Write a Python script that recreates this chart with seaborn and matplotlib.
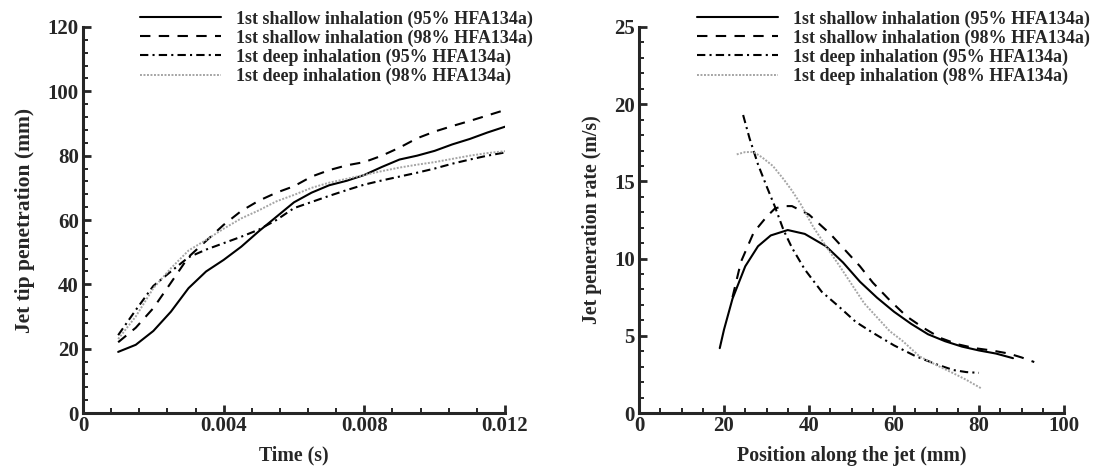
import numpy as np
import pandas as pd
import matplotlib
matplotlib.use("Agg")
import matplotlib.pyplot as plt
from matplotlib.ticker import MultipleLocator, FuncFormatter
import seaborn as sns

# legend labels
labels = ["1st shallow inhalation (95% HFA134a)",
          "1st shallow inhalation (98% HFA134a)",
          "1st deep inhalation (95% HFA134a)",
          "1st deep inhalation (98% HFA134a)"]

# left panel: jet tip penetration vs time
time_s = [0.001, 0.0015, 0.002, 0.0025, 0.003, 0.0035, 0.004, 0.0045, 0.005, 0.0055, 0.006, 0.0065,
          0.007, 0.0075, 0.008, 0.0085, 0.009, 0.0095, 0.010, 0.0105, 0.011, 0.0115, 0.012]
tip_shallow95 = [19, 21.2, 25.5, 31.5, 38.8, 44, 47.6, 51.7, 56.5, 61, 65.5, 68.5,
                 70.8, 72.2, 74, 76.5, 78.8, 80, 81.5, 83.5, 85.2, 87.2, 89]
tip_shallow98 = [22, 26.5, 32.6, 40.5, 48.5, 53.5, 58.5, 62.8, 66, 68.5, 70.5, 73.5,
                 75.5, 77, 78, 80, 82.5, 85.4, 87.5, 89.2, 90.8, 92.5, 94.2]
tip_deep95 = [24.2, 32, 39.5, 44, 48.4, 50.8, 52.8, 54.8, 57, 60, 63.7, 65.6,
              67.5, 69.3, 71, 72.3, 73.5, 74.7, 76, 77.5, 78.8, 80, 81]
tip_deep98 = [23, 30, 38.8, 45, 50.5, 53.8, 57.3, 60.5, 63, 65.8, 67.8, 70,
              71.6, 72.8, 74, 75.2, 76.3, 77.2, 78, 79, 80, 80.8, 81.4]

# right panel: penetration rate vs position
pos_shallow95 = [19, 20, 22, 25, 28, 31, 35, 39, 44, 48, 52, 56, 60, 64, 68, 72, 76, 80, 84, 88]
rate_shallow95 = [4.2, 5.4, 7.4, 9.5, 10.8, 11.5, 11.85, 11.6, 10.8, 9.75, 8.5, 7.47, 6.56, 5.78,
                  5.1, 4.65, 4.3, 4.05, 3.85, 3.55]
pos_shallow98 = [22, 24, 27, 30, 32, 34, 36, 40, 45, 49, 52, 55, 59, 63, 67, 71, 75, 79, 83, 87, 90, 93]
rate_shallow98 = [7.5, 9.8, 11.7, 12.7, 13.25, 13.4, 13.4, 12.85, 11.6, 10.4, 9.5, 8.45, 7.3, 6.25,
                  5.5, 4.85, 4.45, 4.2, 4.05, 3.85, 3.6, 3.3]
pos_deep95 = [24.5, 26, 28, 30, 32, 34, 36, 39, 43, 47, 51, 55, 60, 65, 70, 74, 77, 80]
rate_deep95 = [19.3, 17.8, 16.1, 14.7, 13.35, 11.85, 10.7, 9.3, 7.85, 6.9, 5.9, 5.2, 4.38, 3.69,
               3.15, 2.78, 2.65, 2.6]
pos_deep98 = [23, 25, 27, 29, 31.5, 34, 36, 38, 41, 44, 47, 50, 53, 56, 59, 62, 66, 70, 74, 77, 80.5]
rate_deep98 = [16.75, 16.9, 16.9, 16.55, 16.0, 15.15, 14.4, 13.55, 12.05, 10.8, 9.6, 8.35, 7.1, 6.2,
               5.3, 4.67, 3.67, 3.1, 2.57, 2.15, 1.6]

styles = [dict(color="black", lw=1.5, linestyle="-"),
          dict(color="black", lw=1.5, linestyle=(0, (5, 4))),
          dict(color="black", lw=1.5, linestyle=(0, (4, 2, 1, 2))),
          dict(color="#a5a5a5", lw=1.4, linestyle=(0, (1, 0.8)))]

sns.set_style("ticks")
plt.rcParams["font.family"] = ["Liberation Serif", "DejaVu Serif"]
plt.rcParams["font.weight"] = "bold"

fig = plt.figure(figsize=(10.96, 4.69), dpi=100)
ax1 = fig.add_axes([83 / 1096, 1 - 413 / 469, 422 / 1096, 386 / 469])
ax2 = fig.add_axes([639 / 1096, 1 - 413 / 469, 425 / 1096, 386 / 469])

left_series = [tip_shallow95, tip_shallow98, tip_deep95, tip_deep98]
for ys, st in zip(left_series, styles):
    sns.lineplot(x=time_s, y=ys, ax=ax1, sort=False, estimator=None, **st)

right_series = [(pos_shallow95, rate_shallow95), (pos_shallow98, rate_shallow98),
                (pos_deep95, rate_deep95), (pos_deep98, rate_deep98)]
for (xs, ys), st in zip(right_series, styles):
    sns.lineplot(x=xs, y=ys, ax=ax2, sort=False, estimator=None, **st)


def style_axis(ax, xmax, ymax, xmaj, xmin, ymaj, ymin, xlabel, ylabel, ylabel_size):
    ax.set_xlim(0, xmax)
    ax.set_ylim(0, ymax)
    ax.xaxis.set_major_locator(MultipleLocator(xmaj))
    ax.xaxis.set_minor_locator(MultipleLocator(xmin))
    ax.yaxis.set_major_locator(MultipleLocator(ymaj))
    ax.yaxis.set_minor_locator(MultipleLocator(ymin))
    for s in ["top", "right"]:
        ax.spines[s].set_visible(False)
    for s in ["left", "bottom"]:
        ax.spines[s].set_linewidth(2.2)
    ax.tick_params(which="major", direction="in", length=6, width=2, labelsize=15, pad=3)
    ax.tick_params(which="minor", direction="in", length=3.5, width=1.4)
    ax.tick_params(axis="x", pad=2)
    ax.set_xlabel(xlabel, fontsize=14.3, fontweight="bold", labelpad=7)
    ax.set_ylabel(ylabel, fontsize=ylabel_size, fontweight="bold", labelpad=9)
    for t in ax.get_xticklabels() + ax.get_yticklabels():
        t.set_fontweight("bold")


style_axis(ax1, 0.012, 120, 0.004, 0.0008, 20, 4, "Time (s)", "Jet tip penetration (mm)", 15.5)
ax1.xaxis.set_major_formatter(FuncFormatter(lambda v, p: "0" if abs(v) < 1e-12 else f"{v:.3f}"))
style_axis(ax2, 100, 25, 20, 5, 5, 1, "Position along the jet (mm)", "Jet peneration rate (m/s)", 14.3)

for ax, x0 in [(ax1, 140 / 1096), (ax2, 697 / 1096)]:
    handles = ax.get_lines()[:4]
    ax.legend(handles, labels, loc="upper left", bbox_to_anchor=(x0, 0.978),
              bbox_transform=fig.transFigure, frameon=False, borderpad=0, borderaxespad=0,
              handlelength=4.5, handletextpad=0.8, labelspacing=0.1,
              prop={"family": "Liberation Serif", "weight": "bold", "size": 13})

fig.savefig("out.png", dpi=100)
